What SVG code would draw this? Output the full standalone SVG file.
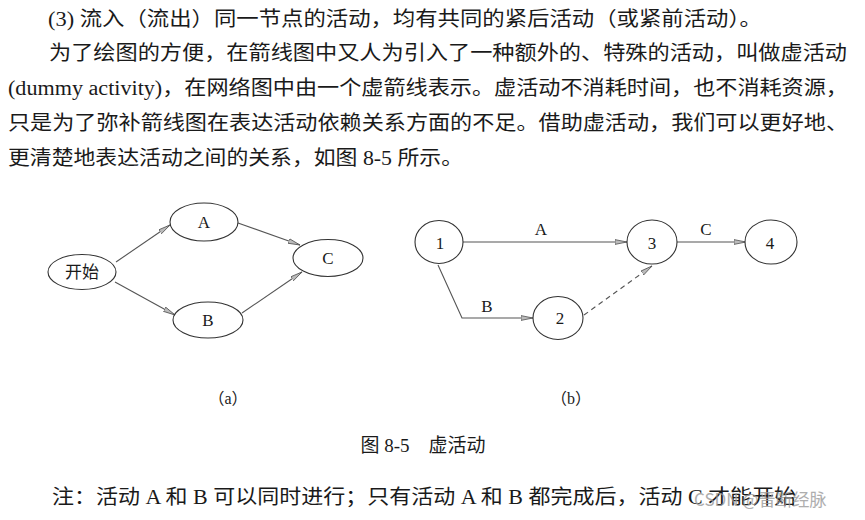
<svg xmlns="http://www.w3.org/2000/svg" width="865" height="520" viewBox="0 0 865 520">
<style>
.t{font-family:"Liberation Serif","Noto Sans CJK SC",serif;font-size:20px;fill:#1a1a1a}
.n{font-family:"Liberation Serif","Noto Sans CJK SC",serif;font-size:17px;fill:#1a1a1a;text-anchor:middle;dominant-baseline:central}
.cap{font-family:"Liberation Serif","Noto Sans CJK SC",serif;font-size:16px;fill:#1a1a1a;text-anchor:middle}
.fig{font-family:"Liberation Serif","Noto Sans CJK SC",serif;font-size:19px;fill:#1a1a1a;text-anchor:middle}
.shape{fill:#fff;stroke:#333;stroke-width:1.1}
.e{fill:none;stroke:#555;stroke-width:1.1}
.d{fill:none;stroke:#555;stroke-width:1.1;stroke-dasharray:5,4}
.wm{font-family:"Noto Sans CJK SC","Liberation Sans",sans-serif;font-size:17px;fill:#9a9a9a;opacity:0.8}
</style>
<defs>
<marker id="ah" viewBox="0 0 12 6" refX="12" refY="3" markerWidth="12" markerHeight="6" markerUnits="userSpaceOnUse" orient="auto">
<path d="M0,0.6 L12,3 L0,5.4 z" fill="#bbb" stroke="#555" stroke-width="0.8"/>
</marker>
</defs>
<rect width="865" height="520" fill="#fff"/>
<g id="text">
<text class="t" x="48" y="26" textLength="714" lengthAdjust="spacingAndGlyphs">(3) 流入（流出）同一节点的活动，均有共同的紧后活动（或紧前活动）。</text>
<text class="t" x="49" y="60" textLength="798" lengthAdjust="spacingAndGlyphs">为了绘图的方便，在箭线图中又人为引入了一种额外的、特殊的活动，叫做虚活动</text>
<text class="t" x="8" y="95" textLength="840" lengthAdjust="spacingAndGlyphs">(dummy activity)，在网络图中由一个虚箭线表示。虚活动不消耗时间，也不消耗资源，</text>
<text class="t" x="8" y="130" textLength="840" lengthAdjust="spacingAndGlyphs">只是为了弥补箭线图在表达活动依赖关系方面的不足。借助虚活动，我们可以更好地、</text>
<text class="t" x="8" y="165" textLength="455" lengthAdjust="spacingAndGlyphs">更清楚地表达活动之间的关系，如图 8-5 所示。</text>
</g>
<g id="connectors">
<line class="e" x1="116" y1="262" x2="170" y2="225" marker-end="url(#ah)"/>
<line class="e" x1="115" y1="282" x2="175" y2="315" marker-end="url(#ah)"/>
<line class="e" x1="238" y1="223" x2="300" y2="245" marker-end="url(#ah)"/>
<line class="e" x1="242" y1="313" x2="302" y2="272" marker-end="url(#ah)"/>
<line class="e" x1="463" y1="242" x2="627" y2="242" marker-end="url(#ah)"/>
<line class="e" x1="677" y1="242" x2="746" y2="242" marker-end="url(#ah)"/>
<polyline class="e" points="438,265 462,318 533,318" marker-end="url(#ah)"/>
<line class="d" x1="584" y1="315" x2="652" y2="266" marker-end="url(#ah)"/>
<text class="n" x="541" y="229">A</text>
<text class="n" x="706" y="229">C</text>
<text class="n" x="487" y="306">B</text>
</g>
<g id="start"><ellipse class="shape" cx="82" cy="272" rx="34" ry="17.5"/><text class="n" x="82" y="272">开始</text></g>
<g id="a"><ellipse class="shape" cx="204" cy="222" rx="34" ry="19"/><text class="n" x="204" y="222">A</text></g>
<g id="b"><ellipse class="shape" cx="208" cy="320" rx="35" ry="18"/><text class="n" x="208" y="320">B</text></g>
<g id="c"><ellipse class="shape" cx="328" cy="258" rx="35" ry="18.5"/><text class="n" x="328" y="258">C</text></g>
<g id="n1"><ellipse class="shape" cx="439" cy="242" rx="24" ry="21.5"/><text class="n" x="440" y="243">1</text></g>
<g id="n2"><ellipse class="shape" cx="558" cy="318" rx="25" ry="21.5"/><text class="n" x="560" y="318">2</text></g>
<g id="n3"><ellipse class="shape" cx="652" cy="242" rx="25" ry="22"/><text class="n" x="652" y="243">3</text></g>
<g id="n4"><ellipse class="shape" cx="771" cy="242" rx="26" ry="22"/><text class="n" x="770" y="243">4</text></g>
<g id="captions">
<text class="cap" x="228" y="404">（a）</text>
<text class="cap" x="571" y="404">（b）</text>
<text class="fig" x="423" y="452">图 8-5　虚活动</text>
<text class="t" x="52" y="504" textLength="744" lengthAdjust="spacingAndGlyphs">注：活动 A 和 B 可以同时进行；只有活动 A 和 B 都完成后，活动 C 才能开始</text>
<text class="wm" x="694" y="506">CSDN @晋断经脉</text>
</g>
</svg>
